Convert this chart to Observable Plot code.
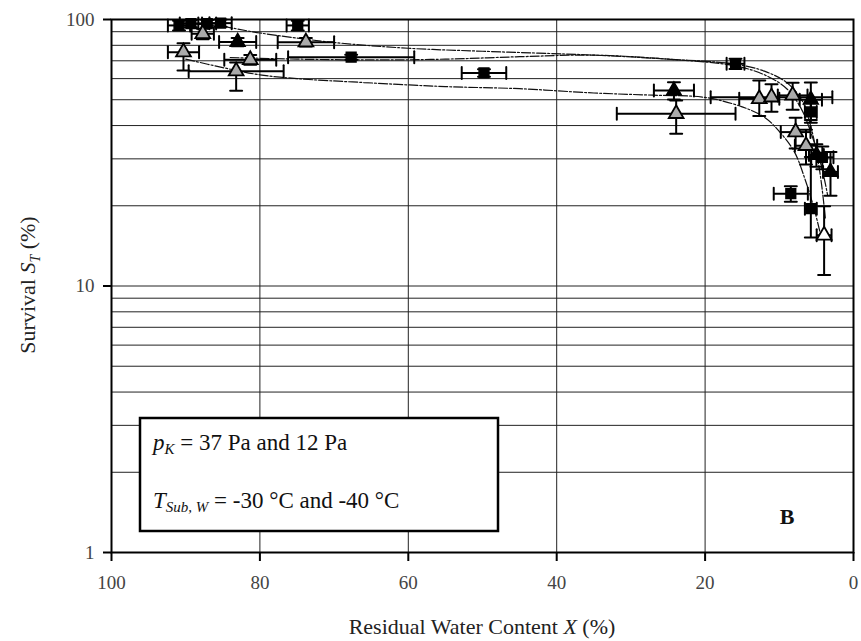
<!DOCTYPE html>
<html><head><meta charset="utf-8">
<script src="https://cdn.jsdelivr.net/npm/d3@7"></script>
<script src="https://cdn.jsdelivr.net/npm/@observablehq/plot@0.6"></script>
<style>body{margin:0;background:#fff} svg{display:block}</style>
</head><body><div id="chart"></div>
<script>
const xTicks = [100, 80, 60, 40, 20, 0];
const yTicks = [1, 10, 100];
const yGrid = [2, 3, 4, 5, 6, 7, 8, 9, 10, 20, 30, 40, 50, 60, 70, 80, 90];
const xGrid = [20, 40, 60, 80];

// [x, y, xErr, yErrLow, yErrHigh]
const squares = [
  [90.9, 95, 1.5, 4, 4], [89.3, 96.6, 1.5, 3, 3], [87.1, 96.5, 1.2, 3, 3], [85.3, 96.9, 1.5, 3, 3],
  [74.9, 95, 1.5, 4, 4], [67.7, 72.2, 8.5, 1.5, 1.5], [49.8, 63, 3, 2, 2], [15.9, 68.2, 1.2, 3, 3],
  [5.75, 45, 0.8, 4, 4], [4.2, 30.4, 1.5, 3, 3], [8.45, 22.2, 2.3, 1.5, 1.5], [5.75, 19.5, 0.8, 4.3, 11]
];
const blackTriangles = [
  [83, 82.3, 2.5, 3, 3], [24.2, 54.1, 2.7, 4, 4], [5.75, 50, 1.5, 8, 8], [5, 31, 1, 3, 3], [3.1, 26.8, 1, 5, 5]
];
const grayTriangles = [
  [90.3, 75.4, 2.1, 11, 6], [87.7, 88.4, 1.5, 4, 4], [73.8, 82.2, 3.8, 3, 3], [81.3, 70.6, 3.5, 3, 3],
  [83.2, 64, 6.4, 10, 5], [23.9, 44.3, 8, 7, 5.4], [12.7, 50.4, 2.7, 7, 8.6], [11.05, 51.1, 8.2, 6, 6],
  [8.2, 51.9, 2, 6, 6], [7.8, 37.8, 2, 5, 5], [6.4, 33.6, 1.5, 5, 5]
];
const openTriangles = [
  [3.96, 15.5, 1.0, 4.5, 4.4]
];

// fitted curves [x, y]
const curveTop = [[91,97],[85,94],[80,89],[70,82],[60,78],[50,76],[35,73.5],[25,71],[16,68],[12,64],[9,58],[7,50],[6,42],[5,32],[4.3,24],[3.8,18]];
const curveMid = [[84,72],[75,71],[65,70.5],[55,71],[45,72.5],[35,73.5],[25,71],[16,67],[12,62],[9,55],[7,46],[5.5,36],[4.3,28],[3.5,22]];
const curveLow = [[90,71],[85,66],[80,62],[75,60],[66,58],[55,56],[45,55],[35,53],[27,52],[20,51],[15,47],[12,43],[10,38],[8,32],[6.5,25],[5.2,19],[4.3,15]];

const rec = arr => arr.map(([x, y, ex, eyl, eyh]) => ({x, y, ex, eyl, eyh}));
const all = [...rec(squares), ...rec(blackTriangles), ...rec(grayTriangles), ...rec(openTriangles)];
const hCaps = all.flatMap(d => [{x: d.x - d.ex, y: d.y}, {x: d.x + d.ex, y: d.y}]);
const vCaps = all.flatMap(d => [{x: d.x, y: d.y - d.eyl}, {x: d.x, y: d.y + d.eyh}]);
const capShape = {draw(context, l) { context.moveTo(0, 0); context.lineTo(0, -l); }};
const dash = "9,2,2,2";
const lineOpts = {x: d => d[0], y: d => d[1], curve: "catmull-rom", stroke: "#111", strokeWidth: 1.2, strokeDasharray: dash};

const svg = Plot.plot({
  width: 861, height: 641,
  marginLeft: 111, marginRight: 8, marginTop: 19, marginBottom: 89,
  style: {fontFamily: "'Liberation Serif', 'DejaVu Serif', serif", fontSize: "19px", background: "#fff"},
  x: {domain: [100, 0]},
  y: {type: "log", domain: [1, 100]},
  marks: [
    Plot.ruleY(yGrid, {stroke: "#222", strokeWidth: 1}),
    Plot.ruleX(xGrid, {stroke: "#222", strokeWidth: 1}),
    Plot.line(curveTop, lineOpts),
    Plot.line(curveMid, lineOpts),
    Plot.line(curveLow, lineOpts),
    Plot.link(all, {x1: d => d.x - d.ex, x2: d => d.x + d.ex, y1: "y", y2: "y", stroke: "black", strokeWidth: 2}),
    Plot.link(all, {x1: "x", x2: "x", y1: d => d.y - d.eyl, y2: d => d.y + d.eyh, stroke: "black", strokeWidth: 2}),
    Plot.vector(hCaps, {x: "x", y: "y", length: 12, rotate: 0, anchor: "middle", shape: capShape, stroke: "black", strokeWidth: 2}),
    Plot.vector(vCaps, {x: "x", y: "y", length: 12, rotate: 90, anchor: "middle", shape: capShape, stroke: "black", strokeWidth: 2}),
    Plot.dot(rec(squares), {x: "x", y: "y", symbol: "square", r: 5.5, fill: "black", stroke: "black"}),
    Plot.dot(rec(blackTriangles), {x: "x", y: "y", symbol: "triangle", r: 5.5, fill: "black", stroke: "black"}),
    Plot.dot(rec(grayTriangles), {x: "x", y: "y", symbol: "triangle", r: 5.5, fill: "#aaa", stroke: "black", strokeWidth: 1.8}),
    Plot.dot(rec(openTriangles), {x: "x", y: "y", symbol: "triangle", r: 5.5, fill: "white", stroke: "black", strokeWidth: 1.8}),
    Plot.frame({stroke: "black", strokeWidth: 2}),
    Plot.axisX({ticks: xTicks, tickFormat: d => d, tickSize: 9, tickPadding: 14, strokeWidth: 2, fill: "#444", label: null}),
    Plot.axisY({ticks: yTicks, tickFormat: d => d, tickSize: 8, tickPadding: 9, strokeWidth: 2, fill: "#444", label: null})
  ]
});
document.getElementById("chart").appendChild(svg);

const s = d3.select(svg);
const font = "'Liberation Serif', 'DejaVu Serif', serif";
// y title
const yt = s.append("text").attr("transform", "translate(35,285) rotate(-90)")
  .attr("text-anchor", "middle").attr("font-family", font).attr("font-size", 22).attr("fill", "#222");
yt.append("tspan").text("Survival ");
yt.append("tspan").attr("font-style", "italic").text("S");
yt.append("tspan").attr("font-style", "italic").attr("font-size", 14).attr("dy", 5).text("T");
yt.append("tspan").attr("dy", -5).text(" (%)");
// x title
const xt = s.append("text").attr("x", 482).attr("y", 634)
  .attr("text-anchor", "middle").attr("font-family", font).attr("font-size", 22).attr("fill", "#222");
xt.append("tspan").text("Residual Water Content ");
xt.append("tspan").attr("font-style", "italic").text("X");
xt.append("tspan").text(" (%)");
// legend box
s.append("rect").attr("x", 140).attr("y", 418).attr("width", 358).attr("height", 113)
  .attr("fill", "white").attr("stroke", "black").attr("stroke-width", 2.5);
const l1 = s.append("text").attr("x", 153).attr("y", 450).attr("text-anchor", "start")
  .attr("font-family", font).attr("font-size", 23).attr("fill", "#111");
l1.append("tspan").attr("font-style", "italic").text("p");
l1.append("tspan").attr("font-style", "italic").attr("font-size", 15).attr("dy", 4).text("K");
l1.append("tspan").attr("dy", -4).text(" = 37 Pa and 12 Pa");
const l2 = s.append("text").attr("x", 153).attr("y", 508).attr("text-anchor", "start")
  .attr("font-family", font).attr("font-size", 23).attr("fill", "#111");
l2.append("tspan").attr("font-style", "italic").text("T");
l2.append("tspan").attr("font-style", "italic").attr("font-size", 15).attr("dy", 4).text("Sub, W");
l2.append("tspan").attr("dy", -4).text(" = -30 °C and -40 °C");
s.append("text").attr("x", 787).attr("y", 524).attr("text-anchor", "middle").attr("font-family", font)
  .attr("font-weight", "bold").attr("font-size", 22).attr("fill", "#111").text("B");
</script>
</body></html>
